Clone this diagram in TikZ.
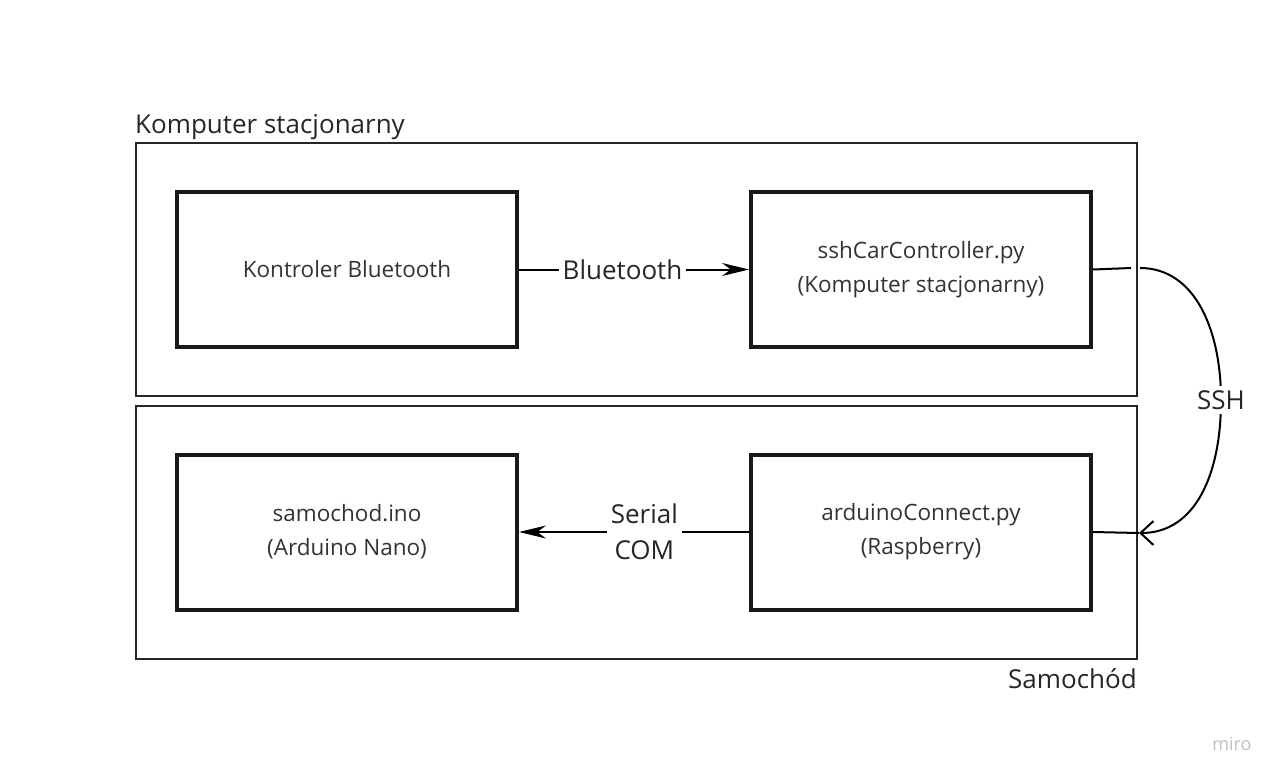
\documentclass[tikz,border=0pt]{standalone}
\usepackage{fontspec}
\setmainfont{Open Sans}
\usetikzlibrary{arrows.meta}
\begin{document}
\begin{tikzpicture}
[x=1pt,y=-1pt,
  framedecorate/.style={shape=rectangle,draw=black!85,line width=1.5pt,minimum width=1001pt,minimum height=253pt,inner sep=0pt},%
  nodedecorate/.style={shape=rectangle,draw=black!90,line width=4pt,minimum width=340pt,minimum height=155pt,align=center,text=black!80,font=\fontsize{22.5}{34}\selectfont},
  labeldecorate/.style={text=black!85,font=\fontsize{26}{36}\selectfont,align=center,inner sep=4pt},
  linedecorate/.style={line width=2pt,black}]
\useasboundingbox (0,0) rectangle (1281,780);
%% frames
\node (pc) at (636.5,269.5) [framedecorate] {};
\node (car) at (636.5,532.5) [framedecorate] {};
\node [labeldecorate,anchor=base west,inner sep=0pt] at (135,133) {Komputer stacjonarny};
\node [labeldecorate,anchor=base east,inner sep=0pt] at (1137,688) {Samochód};
%% nodes or vertices
\foreach \nodename/\x/\y/\txt in {kontroler/347/269.5/Kontroler Bluetooth,
    sshcar/921/269.5/{sshCarController.py\\(Komputer stacjonarny)},
    samochod/347/532/{samochod.ino\\(Arduino Nano)},
    arduino/921/532/{arduinoConnect.py\\(Raspberry)}} {
  \node (\nodename) at (\x,\y) [nodedecorate] {\txt};
}
%% edges or lines
\path (kontroler) edge[linedecorate,-{Stealth[length=27pt,width=13pt]}]
  node[pos=0.45,fill=white,labeldecorate] {Bluetooth} (sshcar);
\path (arduino) edge[linedecorate,-{Stealth[length=27pt,width=13pt]}]
  node[pos=0.455,fill=white,labeldecorate] {Serial\\COM} (samochod);
%% ssh connector
\coordinate (gapl) at (1131,268);
\coordinate (gapr) at (1140,268);
\coordinate (sshin) at (1139,533);
\draw[linedecorate] (sshcar.east) -- (gapl);
\draw[linedecorate,-{Straight Barb[length=13pt,width=24pt]}] (gapr)
  .. controls (1195,268) and (1221,330) .. (1221,400)
  node[fill=white,labeldecorate] {SSH}
  .. controls (1221,475) and (1195,533) .. (sshin);
\draw[linedecorate] (arduino.east) -- (sshin);
\node (miro) at (1232,744) [text=black!25,font=\fontsize{18}{20}\selectfont] {miro};
\end{tikzpicture}
\end{document}
